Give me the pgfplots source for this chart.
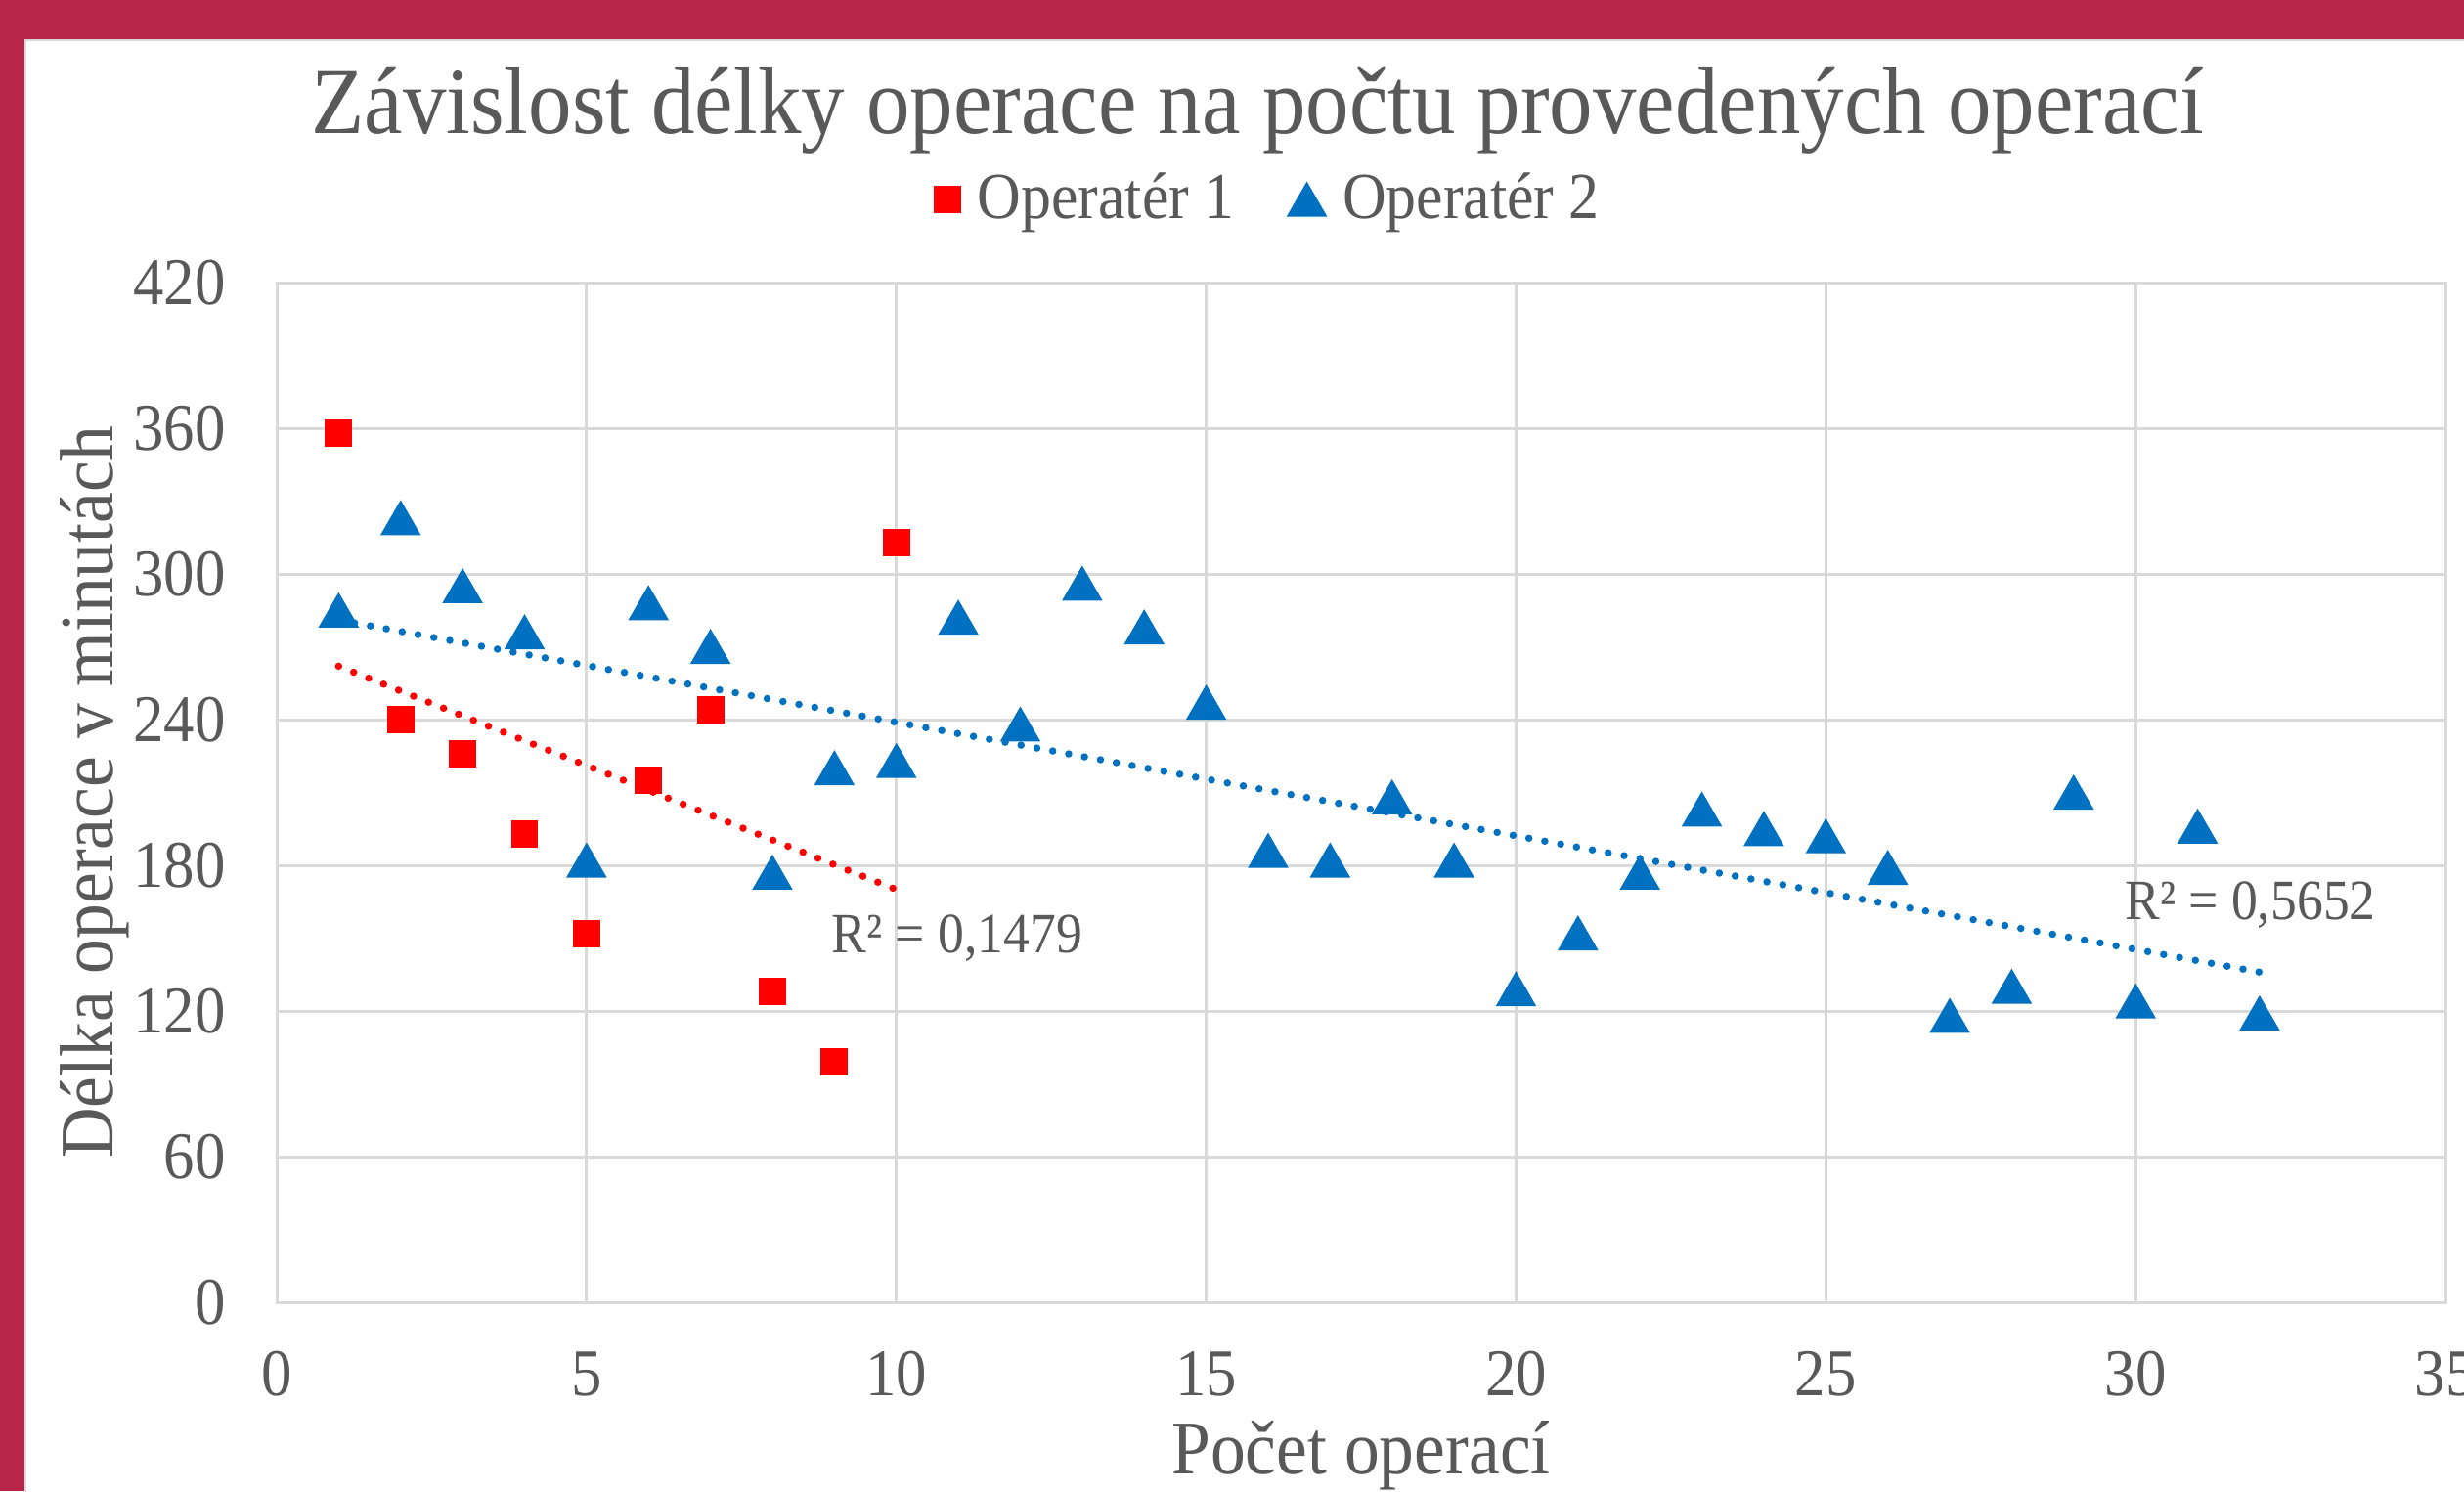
\documentclass[border=0pt]{standalone}
\usepackage{fontspec}
\setmainfont{Liberation Serif}[FakeStretch=0.92]
\usepackage{pgfplots}
\pgfplotsset{compat=1.18}
\definecolor{frame}{RGB}{183,38,72}
\definecolor{txt}{RGB}{89,89,89}
\definecolor{gridc}{RGB}{217,217,217}
\definecolor{blu}{RGB}{0,112,192}
\definecolor{rd}{RGB}{255,0,0}
\pgfplotstableread{
x y
1 358
2 240
3 226
4 193
5 152
6 215
7 244
8 128
9 99
10 313
}\opone
\pgfplotstableread{
x y
1 285
2 323
3 295
4 276
5 182
6 288
7 270
8 177
9 220
10 223
11 282
12 238
13 296
14 278
15 247
16 186
17 182
18 208
19 182
20 129
21 152
22 177
23 203
24 195
25 192
26 179
27 118
28 130
29 210
30 124
31 196
32 119
}\optwo
\begin{document}
\begin{tikzpicture}[x=1bp,y=1bp]
\clip (0,0) rectangle (504,305);
\fill[frame] (0,0) rectangle (504,305);
\fill[white] (5.2,0) rectangle (504,296.8);
\draw[gridc, line width=0.5bp] (5.2,-1) -- (5.2,296.8) -- (505,296.8);
\begin{axis}[
  at={(56.6bp,38.6bp)}, anchor=south west,
  width=443.6bp, height=208.6bp, scale only axis,
  xmin=0, xmax=35, ymin=0, ymax=420,
  xtick={0,5,...,35}, ytick={0,60,...,420},
  grid=major, major grid style={gridc, line width=0.6bp},
  axis line style={gridc, line width=0.6bp},
  tick style={draw=none},
  /pgf/number format/assume math mode=true,
  ticklabel style={font=\fontsize{13.7}{13.7}\selectfont, text=txt},
  xticklabel style={anchor=center, yshift=-14.6bp},
  yticklabel style={anchor=east, xshift=-7bp},
  xlabel={Počet operací}, ylabel={Délka operace v minutách},
  label style={font=\fontsize{15.6}{15.6}\selectfont, text=txt},
  xlabel style={at={(axis description cs:0.5,-0.150)}, anchor=center},
  ylabel style={at={(axis description cs:-0.0841,0.5)}, anchor=center},
  legend columns=2,
  legend image code/.code={\draw[#1] plot coordinates {(0bp,0bp)};},
  legend style={draw=none, fill=none, at={(rel axis cs:0.459,1.0815)}, anchor=center,
    font=\fontsize{13.5}{13.5}\selectfont, text=txt,
    /tikz/every odd column/.append style={column sep=1.5bp},
    /tikz/every even column/.append style={column sep=9bp}},
  clip=false,
]
\addplot[only marks, mark=square*, mark size=2.6bp, color=rd] table {\opone};
\addlegendentry{Operatér 1}
\addplot[only marks, mark=triangle*, mark size=4.4bp, color=blu,
  every mark/.append style={yshift=-1.1bp}] table {\optwo};
\addlegendentry{Operatér 2}
\addplot[rd, line width=1.5bp, line cap=round, dash pattern=on 0pt off 3.3bp, forget plot]
  coordinates {(1,262) (10,170)};
\addplot[blu, line width=1.5bp, line cap=round, dash pattern=on 0pt off 3.3bp, forget plot]
  coordinates {(1,281) (32,136)};
\node[text=txt, font=\fontsize{11.7}{11.7}\selectfont] at (axis cs:10.98,150) {R² = 0,1479};
\node[text=txt, font=\fontsize{11.7}{11.7}\selectfont] at (axis cs:31.85,163.8) {R² = 0,5652};
\end{axis}
\node[text=txt, font=\fontsize{19.4}{19.4}\selectfont, anchor=base] at (257.2,277.7)
  {Závislost délky operace na počtu provedených operací};
\end{tikzpicture}
\end{document}
